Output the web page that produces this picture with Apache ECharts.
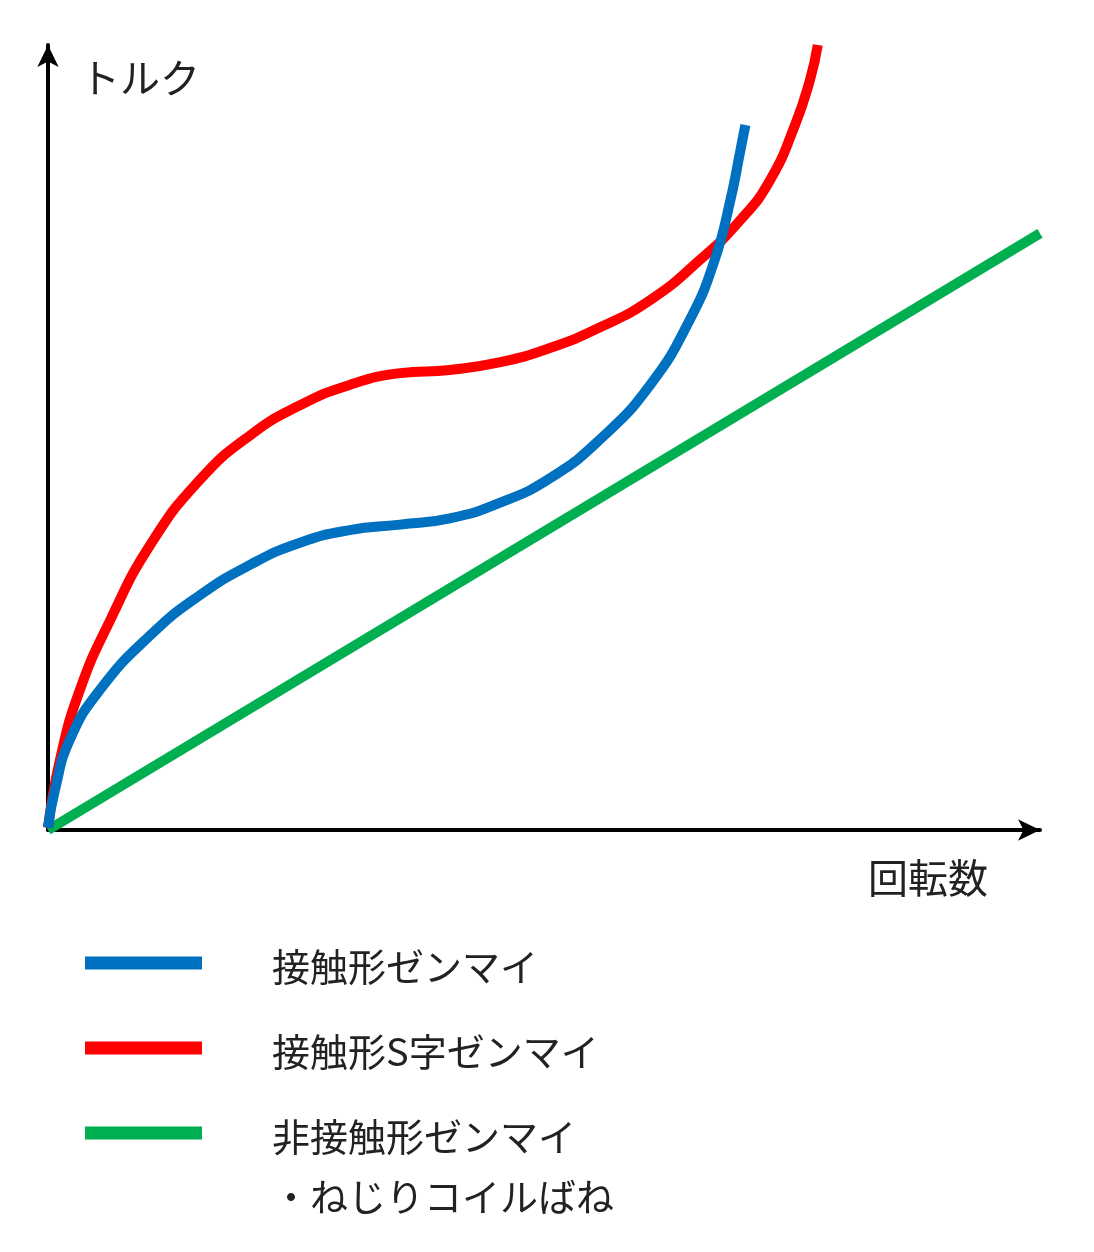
<!DOCTYPE html>
<html><head><meta charset="utf-8">
<script src="https://cdn.jsdelivr.net/npm/echarts@6/dist/echarts.min.js"></script>
<style>html,body{margin:0;padding:0;background:#fff}#c{width:1094px;height:1252px}</style>
</head><body><div id="c"></div>
<script>
const seriesNames = ['接触形ゼンマイ', '接触形S字ゼンマイ', '非接触形ゼンマイ\n・ねじりコイルばね'];
const blueData = [[0,0.3],[0.7,5.1],[2.2,11.5],[5.2,17.8],[10.3,24.8],[15.3,29.9],[20.4,33.8],[25.4,36.6],[30.4,38.2],[35.5,38.9],[40.5,39.7],[45.6,41.7],[50.6,44.8],[55.6,49.7],[60.7,56.7],[64.7,65.0],[67.2,72.6],[68.8,80.3],[69.8,86.6],[70.3,89.8]];
const redData = [[0,0.3],[1.2,8.9],[3.2,17.8],[6.3,26.8],[10.3,36.3],[15.3,44.6],[20.4,50.3],[25.4,54.1],[30.4,56.7],[35.5,58.2],[40.5,58.6],[45.6,59.6],[50.6,61.4],[55.6,64.0],[60.7,67.5],[65.7,72.6],[69.8,77.7],[72.8,82.8],[75.3,89.8],[76.8,95.5],[77.6,100]];
const greenData = [[0,0],[100,76]];
const colors = ['#0070C0', '#FF0000', '#00B050'];
const font = '"Noto Sans CJK JP", sans-serif';
const chart = echarts.init(document.getElementById('c'));
const legendY = [963, 1048, 1133];
const graphics = [
  {type:'text', left:80, top:58, style:{text:'トルク', font:'40px '+font, fill:'#222'}},
  {type:'text', left:868, top:858, style:{text:'回転数', font:'40px '+font, fill:'#222'}}
];
seriesNames.forEach((n,i)=>{
  graphics.push({type:'line', shape:{x1:85,y1:legendY[i],x2:202,y2:legendY[i]}, style:{stroke:colors[i], lineWidth:13}});
  graphics.push({type:'text', left:272, top:legendY[i]-26, style:{text:n, font:'38px '+font, fill:'#222', lineHeight:60}});
});
const axisCommon = {type:'value', min:0, max:100, splitLine:{show:false}, axisTick:{show:false}, axisLabel:{show:false},
  axisLine:{show:true, symbol:['none','arrow'], symbolSize:[16,22], lineStyle:{color:'#000', width:4}}};
chart.setOption({
  animation:false,
  grid:{left:48, top:45, width:992, height:785},
  xAxis:axisCommon, yAxis:axisCommon,
  graphic:graphics,
  series:[
    {name:seriesNames[2], type:'line', data:greenData, showSymbol:false, lineStyle:{color:colors[2], width:10}},
    {name:seriesNames[1], type:'line', data:redData, smooth:true, showSymbol:false, clip:false, lineStyle:{color:colors[1], width:10}},
    {name:seriesNames[0], type:'line', data:blueData, smooth:true, showSymbol:false, clip:false, lineStyle:{color:colors[0], width:10}}
  ]
});
</script></body></html>
